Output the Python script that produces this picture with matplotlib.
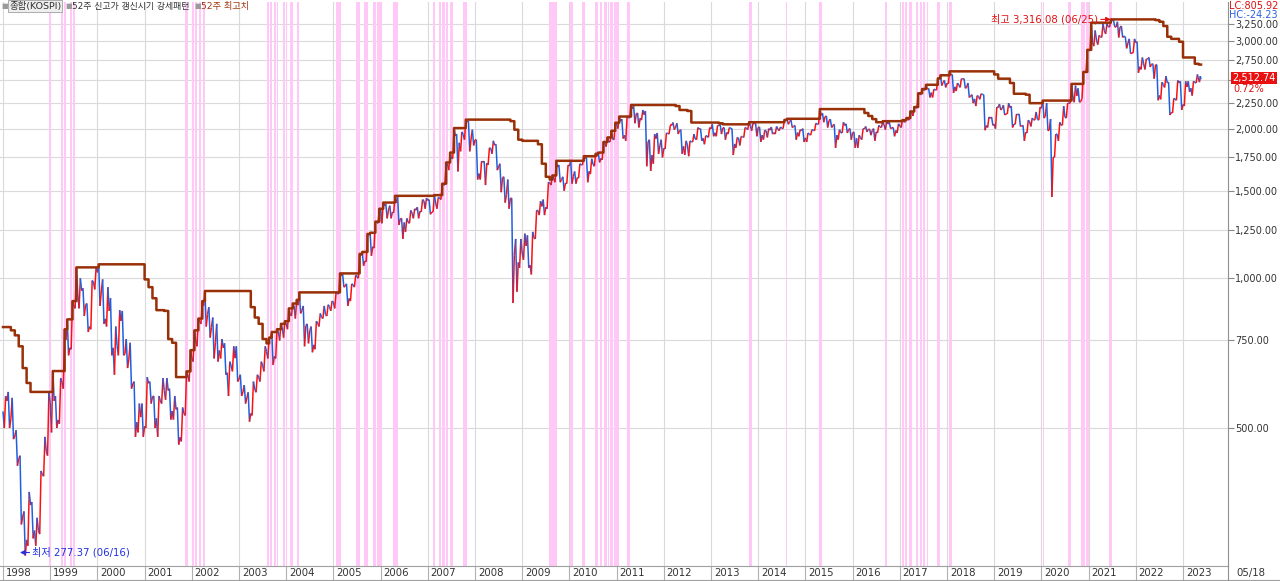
import matplotlib
matplotlib.use("Agg")
import matplotlib.pyplot as plt
import matplotlib.transforms as mtransforms
from matplotlib.collections import LineCollection
from matplotlib.lines import Line2D
from matplotlib.ticker import FixedLocator, NullLocator, NullFormatter

plt.rcParams['font.family'] = ['DejaVu Sans', 'Noto Sans CJK KR']

# KOSPI monthly close / high / low, Jan 1998 .. May 2023 (last bar = 05/18)
close = [
    567, 522, 482, 434, 331, 298, 350, 311, 311, 403, 449, 562,
    567, 519, 618, 752, 725, 883, 931, 944, 885, 800, 983, 1028,
    943, 829, 860, 725, 732, 821, 705, 688, 613, 514, 526, 504,
    615, 578, 523, 567, 595, 595, 541, 545, 479, 535, 639, 693,
    752, 819, 880, 846, 797, 742, 716, 725, 646, 667, 691, 628,
    591, 575, 535, 599, 633, 669, 712, 759, 697, 781, 796, 810,
    848, 880, 883, 862, 803, 785, 735, 813, 835, 845, 878, 896,
    932, 1011, 965, 911, 970, 1008, 1111, 1083, 1221, 1158, 1297, 1379,
    1399, 1371, 1359, 1419, 1317, 1295, 1297, 1352, 1371, 1364, 1432, 1434,
    1360, 1417, 1452, 1542, 1700, 1744, 1933, 1873, 1946, 2064, 1906, 1897,
    1624, 1711, 1704, 1825, 1852, 1674, 1594, 1474, 1448, 1113, 1076, 1124,
    1162, 1063, 1206, 1369, 1395, 1390, 1557, 1591, 1673, 1580, 1555, 1682,
    1602, 1594, 1692, 1741, 1641, 1698, 1759, 1742, 1872, 1882, 1904, 2051,
    2069, 1939, 2106, 2192, 2142, 2100, 2133, 1880, 1769, 1909, 1847, 1826,
    1956, 2030, 2014, 1982, 1843, 1854, 1881, 1906, 1996, 1912, 1932, 1997,
    1962, 2027, 2005, 1964, 2001, 1863, 1914, 1926, 2005, 2030, 2045, 2011,
    1941, 1980, 1986, 1962, 1995, 2002, 2076, 2068, 2020, 1964, 1981, 1916,
    1949, 1986, 2041, 2127, 2114, 2074, 2030, 1941, 1963, 2029, 1992, 1961,
    1912, 1917, 1996, 1994, 1983, 1970, 2016, 2034, 2043, 2008, 1983, 2026,
    2067, 2091, 2160, 2205, 2347, 2392, 2402, 2363, 2394, 2523, 2476, 2467,
    2566, 2427, 2445, 2515, 2423, 2326, 2295, 2322, 2343, 2029, 2097, 2041,
    2204, 2195, 2140, 2204, 2041, 2131, 2025, 1967, 2063, 2083, 2087, 2197,
    2119, 1987, 1754, 1948, 2030, 2108, 2249, 2326, 2327, 2267, 2591, 2873,
    2976, 3013, 3061, 3147, 3204, 3297, 3202, 3199, 3068, 2970, 2839, 2977,
    2663, 2699, 2757, 2695, 2685, 2332, 2451, 2472, 2155, 2293, 2472, 2236,
    2425, 2412, 2477, 2501, 2512.74,
]
high = [
    580, 591, 575, 495, 440, 340, 372, 355, 330, 410, 480, 590,
    651, 580, 630, 790, 827, 900, 1052, 1000, 955, 890, 990, 1050,
    1067, 995, 960, 912, 800, 863, 860, 755, 742, 620, 560, 560,
    633, 620, 580, 580, 630, 630, 600, 580, 550, 550, 650, 717,
    786, 830, 900, 943, 875, 834, 810, 755, 740, 680, 730, 730,
    640, 610, 590, 620, 640, 680, 730, 760, 780, 790, 810, 820,
    870, 890, 905, 937, 880, 810, 800, 820, 850, 880, 885, 900,
    935, 1023, 1022, 975, 975, 1015, 1120, 1130, 1228, 1235, 1300, 1380,
    1420, 1410, 1400, 1465, 1464, 1320, 1320, 1370, 1380, 1390, 1440, 1450,
    1440, 1470, 1455, 1550, 1710, 1790, 2005, 1950, 1970, 2085, 2070, 1990,
    1900, 1720, 1720, 1830, 1890, 1860, 1700, 1600, 1580, 1450, 1200, 1200,
    1230, 1220, 1240, 1370, 1430, 1440, 1560, 1610, 1723, 1690, 1600, 1690,
    1720, 1640, 1700, 1760, 1750, 1740, 1780, 1790, 1880, 1920, 1980, 2055,
    2115, 2090, 2110, 2231, 2220, 2150, 2180, 2170, 1900, 1950, 1960, 1900,
    1960, 2030, 2057, 2050, 1990, 1890, 1890, 1950, 2010, 2000, 1935, 2010,
    2040, 2030, 2040, 2010, 2010, 2000, 1920, 1930, 2010, 2060, 2050, 2050,
    2015, 1985, 2000, 2015, 2020, 2015, 2082, 2093, 2080, 2030, 1990, 2000,
    1960, 1990, 2050, 2189, 2150, 2120, 2090, 2040, 1990, 2060, 2045, 2000,
    1970, 1940, 2000, 2020, 1995, 2000, 2030, 2070, 2070, 2060, 2010, 2045,
    2080, 2100, 2165, 2210, 2355, 2402, 2450, 2410, 2400, 2523, 2560, 2500,
    2607, 2570, 2470, 2520, 2520, 2470, 2340, 2330, 2350, 2340, 2110, 2110,
    2210, 2240, 2230, 2250, 2220, 2140, 2140, 2030, 2080, 2100, 2160, 2210,
    2277, 2250, 2090, 1950, 2060, 2220, 2250, 2460, 2440, 2410, 2600, 2880,
    3266, 3150, 3080, 3250, 3250, 3316, 3305, 3280, 3215, 3060, 3030, 3030,
    2990, 2780, 2760, 2780, 2700, 2690, 2480, 2550, 2480, 2300, 2500, 2490,
    2490, 2490, 2490, 2570, 2550,
]
low = [
    500, 500, 475, 420, 320, 277, 290, 300, 290, 306, 400, 440,
    490, 500, 510, 600, 700, 720, 870, 870, 840, 780, 790, 950,
    880, 810, 800, 700, 640, 700, 700, 660, 600, 480, 490, 480,
    500, 560, 500, 480, 560, 570, 520, 520, 463, 470, 530, 620,
    680, 730, 810, 800, 760, 690, 680, 690, 640, 580, 650, 620,
    580, 560, 515, 530, 590, 620, 650, 690, 670, 690, 750, 760,
    790, 840, 830, 850, 730, 740, 710, 720, 800, 830, 840, 860,
    870, 930, 960, 880, 900, 960, 1000, 1060, 1080, 1110, 1150, 1290,
    1290, 1320, 1320, 1355, 1280, 1200, 1240, 1290, 1320, 1320, 1360, 1380,
    1345, 1360, 1380, 1440, 1540, 1650, 1740, 1640, 1800, 1900, 1800, 1850,
    1580, 1580, 1540, 1690, 1780, 1650, 1490, 1420, 1380, 892, 940, 1050,
    1090, 1050, 1018, 1200, 1340, 1340, 1380, 1540, 1560, 1560, 1500, 1550,
    1550, 1550, 1590, 1690, 1560, 1620, 1680, 1710, 1730, 1840, 1880, 1900,
    2000, 1910, 1890, 2100, 2050, 2010, 2080, 1680, 1644, 1700, 1780, 1750,
    1820, 1950, 1990, 1950, 1780, 1770, 1760, 1880, 1900, 1890, 1860, 1920,
    1930, 1930, 1950, 1900, 1950, 1770, 1830, 1850, 1920, 1990, 1980, 1930,
    1880, 1900, 1920, 1950, 1950, 1980, 2000, 2040, 2010, 1900, 1930, 1880,
    1880, 1940, 1980, 2040, 2060, 2010, 2010, 1830, 1900, 1960, 1960, 1900,
    1830, 1830, 1900, 1970, 1940, 1890, 1960, 2010, 1990, 2000, 1930, 1960,
    2010, 2060, 2080, 2120, 2200, 2340, 2390, 2310, 2310, 2390, 2440, 2420,
    2460, 2360, 2380, 2420, 2410, 2310, 2250, 2220, 2290, 1985, 2010, 2030,
    2000, 2180, 2130, 2140, 2010, 2040, 2020, 1890, 1960, 2020, 2080, 2080,
    2100, 1980, 1457, 1750, 1890, 2030, 2100, 2250, 2260, 2260, 2300, 2600,
    2870, 2930, 2950, 3050, 3100, 3200, 3200, 3050, 3050, 2900, 2830, 2840,
    2590, 2630, 2630, 2660, 2520, 2280, 2290, 2420, 2130, 2150, 2280, 2180,
    2220, 2370, 2330, 2470, 2480,
]
# monthly highs Feb-Dec 1997, only needed for the 52-week window at the left edge
high_1997 = [780, 798, 786, 768, 730, 660, 616, 580, 560, 500, 420]
first_open = 540

# 52주 신고가 갱신시기 (decimal years)
bands = [
    (1998.97, 1999.02), (1999.23, 1999.28), (1999.30, 1999.34), (1999.42, 1999.47), (1999.49, 1999.53),
    (2001.86, 2001.92), (2002.00, 2002.05), (2002.07, 2002.11), (2002.15, 2002.20), (2002.23, 2002.28),
    (2003.59, 2003.64), (2003.66, 2003.70), (2003.74, 2003.78), (2003.80, 2003.83), (2003.93, 2003.97),
    (2003.99, 2004.02), (2004.08, 2004.14), (2004.23, 2004.27),
    (2005.06, 2005.16), (2005.48, 2005.56), (2005.65, 2005.73), (2005.84, 2005.90), (2005.93, 2006.03),
    (2006.26, 2006.37),
    (2007.11, 2007.15), (2007.24, 2007.29), (2007.31, 2007.36), (2007.38, 2007.43), (2007.46, 2007.53),
    (2007.75, 2007.83),
    (2009.57, 2009.74), (2010.01, 2010.08), (2010.27, 2010.33), (2010.54, 2010.61), (2010.65, 2010.70),
    (2010.73, 2010.79), (2010.81, 2010.84), (2010.86, 2010.92), (2010.95, 2011.05), (2011.22, 2011.28),
    (2013.80, 2013.87), (2014.59, 2014.61), (2015.29, 2015.35),
    (2016.69, 2016.73), (2017.05, 2017.09), (2017.12, 2017.16), (2017.20, 2017.26), (2017.34, 2017.39),
    (2017.42, 2017.47), (2017.50, 2017.54), (2017.57, 2017.60), (2017.79, 2017.85), (2018.04, 2018.11),
    (2020.03, 2020.06), (2020.56, 2020.63), (2020.84, 2020.93), (2020.95, 2021.01), (2021.43, 2021.50),
]

year_ticks = list(range(1998, 2024))
y_ticks = [500, 750, 1000, 1250, 1500, 1750, 2000, 2250, 2500, 2750, 3000, 3250]

W, H = 1280, 581
n = len(close)
starts = [1998 + i / 12 for i in range(n)]
ends = [1998 + (i + 1) / 12 for i in range(n)]
ends[-1] = 2023 + (4 + 18 / 31) / 12

# price path: prev close -> low/high -> high/low -> close, coloured by direction
pts = [(starts[0], first_open)]
hi_time = []
prev = first_open
for i in range(n):
    s, e = starts[i], ends[i]
    d = (e - s) / 3
    if close[i] >= prev:
        pts += [(s + d, low[i]), (s + 2 * d, high[i])]
        hi_time.append(s + 2 * d)
    else:
        pts += [(s + d, high[i]), (s + 2 * d, low[i])]
        hi_time.append(s + d)
    pts.append((e, close[i]))
    prev = close[i]

segs, cols = [], []
for a, b in zip(pts[:-1], pts[1:]):
    segs.append([a, b])
    cols.append('#ff1010' if b[1] >= a[1] else '#1f5fe0')

# 52-week high from the 12-month window of highs
hall = high_1997 + high
tb, vb = [], []
for i in range(n):
    j = i + 11
    tb += [starts[i], hi_time[i]]
    vb += [max(hall[j - 11:j]), max(hall[j - 11:j + 1])]
tb.append(ends[-1])
vb.append(vb[-1])

fig = plt.figure(figsize=(W / 100, H / 100), dpi=100)
ax = fig.add_axes([0, 15 / H, 1228 / W, 564 / H])

for a, b in bands:
    ax.axvspan(a, b, color='#ffc8f6', lw=0, zorder=1)

ax.add_collection(LineCollection(segs, colors=cols, linewidths=1.1, zorder=3))
ax.plot(tb, vb, drawstyle='steps-post', color='#993008', lw=1.8, zorder=4)

ax.set_yscale('log')
ax.set_ylim(264, 3594)
ax.set_xlim(1998 - 3 / 47.2, 1998 + 1225 / 47.2)

# 2,500 sits under the current-price box, so its label stays blank
ax.yaxis.set_major_locator(FixedLocator(y_ticks))
ax.yaxis.set_minor_locator(NullLocator())
ax.yaxis.set_minor_formatter(NullFormatter())
ax.set_yticklabels(['' if v == 2500 else f'{v:,.2f}' for v in y_ticks])
ax.yaxis.tick_right()
ax.tick_params(axis='y', direction='out', length=4, width=0.8, color='#888888',
               pad=1, labelsize=7, labelcolor='#333333')

ax.set_xticks(year_ticks)
ax.set_xticklabels([str(y) for y in year_ticks])
ax.tick_params(axis='x', direction='out', length=11, width=0.8, color='#b0b0b0',
               pad=-9.8, labelsize=7.3, labelcolor='#333333')
shift = mtransforms.ScaledTranslation(2 / 72, 0, fig.dpi_scale_trans)
for lab in ax.get_xticklabels():
    lab.set_ha('left')
    lab.set_transform(lab.get_transform() + shift)

ax.grid(True, color='#dadada', lw=0.8, zorder=0)
ax.set_axisbelow(True)
for side in ['left', 'top']:
    ax.spines[side].set_visible(False)
ax.spines['right'].set_color('#909090')
ax.spines['bottom'].set_color('#a0a0a0')

# min / max markers
ax.annotate('최고 3,316.08 (06/25)', xy=(2021.47, 3316.08), xytext=(2021.2, 3316.08),
            ha='right', va='center', fontsize=7.3, color='#e01010', zorder=6,
            arrowprops=dict(arrowstyle='-|>', color='#e01010', lw=0.8, mutation_scale=7,
                            shrinkA=0, shrinkB=0))
ax.annotate('최저 277.37 (06/16)', xy=(1998.36, 281), xytext=(1998.62, 281),
            ha='left', va='center', fontsize=7.3, color='#2030e0', zorder=6,
            arrowprops=dict(arrowstyle='-|>', color='#2030e0', lw=0.8, mutation_scale=7,
                            shrinkA=0, shrinkB=0))

# legend row
ty = 1 - 6 / H
fig.text(1 / W, ty, '■', fontsize=5, color='#9a9a9a', va='center')
fig.text(9 / W, ty, '종합(KOSPI)', fontsize=6.8, color='#333333', va='center',
         bbox=dict(boxstyle='square,pad=0.12', fc='#eeeeee', ec='#a0a0a0', lw=0.6))
fig.text(65 / W, ty, '■', fontsize=5, color='#9a9a9a', va='center')
fig.text(72 / W, ty, '52주 신고가 갱신시기 강세패턴', fontsize=6.4, color='#333333', va='center')
fig.text(194 / W, ty, '■', fontsize=5, color='#9a9a9a', va='center')
fig.text(201 / W, ty, '52주 최고치', fontsize=6.6, color='#a0380c', va='center')

# right side labels
fig.text(1229 / W, 1 - 6 / H, 'LC:805.92', fontsize=7, color='#e01010', va='center')
fig.text(1229 / W, 1 - 15 / H, 'HC:-24.23', fontsize=7, color='#2a60e0', va='center')
fig.text(1232 / W, 1 - 78 / H, '2,512.74', fontsize=7, color='white', va='center', zorder=10,
         bbox=dict(boxstyle='square,pad=0.12', fc='#e81010', ec='none'))
fig.text(1233 / W, 1 - 89.5 / H, '0.72%', fontsize=7, color='#e01010', va='center')
fig.text(1236 / W, 1 - 573 / H, '05/18', fontsize=7.3, color='#333333', va='center')

fig.add_artist(Line2D([0, 1], [0.6 / H, 0.6 / H], color='#a0a0a0', lw=0.8))
fig.add_artist(Line2D([1228 / W, 1228 / W], [0, 15 / H], color='#909090', lw=0.8))

fig.savefig('out.png', dpi=100)
